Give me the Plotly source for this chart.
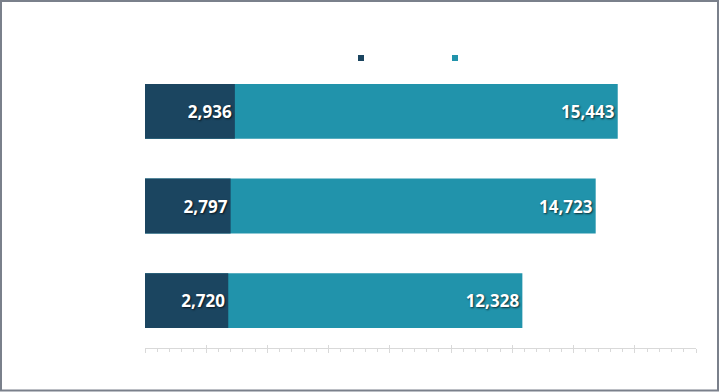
import plotly.graph_objects as go

categories = ["Row 1", "Row 2", "Row 3"]
part_values = [2936, 2797, 2720]
total_values = [15443, 14723, 12328]
legend_names = ["", ""]

DARK = "#1b4560"
TEAL = "#2193ab"

W, H = 720, 392
L, R, T, B = 145, 24, 64, 44
PW, PH = W - L - R, H - T - B

fig = go.Figure()

label_font = dict(family="Open Sans", size=17, color="white",
                  weight=700, shadow="1px 1px 2px rgba(0,0,0,0.7)")

fig.add_trace(go.Bar(
    y=categories, x=total_values, orientation="h",
    marker=dict(color=TEAL, line=dict(width=0)),
    text=[f"{v:,}" for v in total_values], textposition="inside",
    insidetextanchor="end", textfont=label_font, textangle=0,
    showlegend=False, hoverinfo="skip",
))
fig.add_trace(go.Bar(
    y=categories, x=part_values, orientation="h",
    marker=dict(color=DARK, line=dict(width=0)),
    text=[f"{v:,}" for v in part_values], textposition="inside",
    insidetextanchor="end", textfont=label_font, textangle=0,
    showlegend=False, hoverinfo="skip",
))
for name, col in zip(legend_names, [DARK, TEAL]):
    fig.add_trace(go.Scatter(
        x=[None], y=[None], mode="markers", name=name,
        marker=dict(symbol="square", size=6, color=col),
        showlegend=True,
    ))

# upward part of tick marks
fig.add_trace(go.Scatter(x=[None], y=[None], xaxis="x2", showlegend=False))

fig.update_layout(
    width=W, height=H,
    margin=dict(l=L, r=R, t=T, b=B),
    paper_bgcolor="white", plot_bgcolor="white",
    barmode="overlay", bargap=0.42,
    font=dict(family="Open Sans", color="#595959"),
    xaxis=dict(range=[0, 18000], showgrid=False, zeroline=False,
               showline=True, linecolor="#d9d9d9", linewidth=1,
               ticks="outside", ticklen=4, tickcolor="#d9d9d9", dtick=2000,
               showticklabels=False,
               minor=dict(ticks="outside", ticklen=3, tickcolor="#d9d9d9", dtick=400)),
    xaxis2=dict(range=[0, 18000], overlaying="x", side="bottom",
                showgrid=False, zeroline=False, showline=False,
                ticks="inside", ticklen=3, tickcolor="#d9d9d9", dtick=2000,
                showticklabels=False),
    yaxis=dict(autorange="reversed", showgrid=False, zeroline=False,
               showline=False, showticklabels=False, ticks=""),
    legend=dict(orientation="h", x=(341 - L) / PW, xanchor="left",
                y=(H - B - 58) / PH, yanchor="middle",
                entrywidth=49, entrywidthmode="pixels",
                bgcolor="rgba(0,0,0,0)", font=dict(size=12)),
    shapes=[dict(type="rect", xref="paper", yref="paper",
                 x0=(1 - L) / PW, x1=(718 - L) / PW,
                 y0=(H - B - 390.5) / PH, y1=(H - B - 1) / PH,
                 line=dict(color="#7a808b", width=2), layer="above")],
)

fig.write_html("out.html", config={"displayModeBar": False},
               post_script="document.body.style.margin='0';document.body.style.overflow='hidden';")
